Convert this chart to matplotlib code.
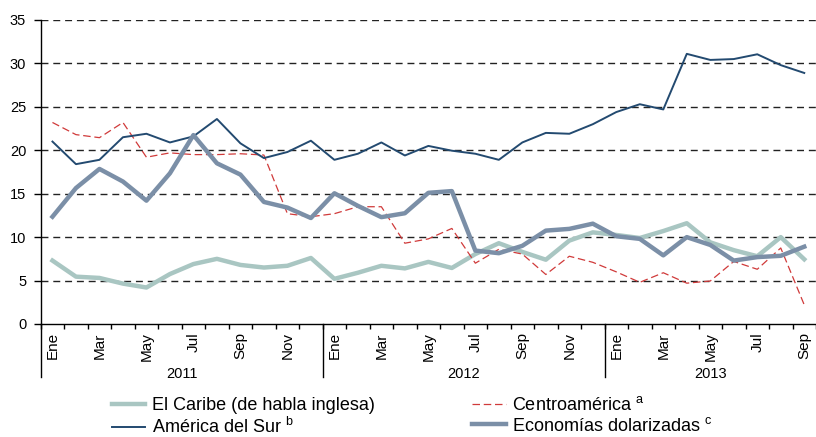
import matplotlib.pyplot as plt
import numpy as np

plt.rcParams["font.family"] = ["Liberation Sans", "DejaVu Sans"]
plt.rcParams["mathtext.fontset"] = "custom"
plt.rcParams["mathtext.rm"] = "Liberation Sans"

# monthly series, Ene 2011 .. Sep 2013
years = ["2011", "2012", "2013"]
months_per_year = [12, 12, 9]
month_names = ["Ene", "", "Mar", "", "May", "", "Jul", "", "Sep", "", "Nov", ""]

caribe = [7.3, 5.45, 5.3, 4.65, 4.2, 5.75, 6.9, 7.5, 6.8, 6.5, 6.7, 7.6,
          5.2, 5.9, 6.7, 6.4, 7.15, 6.45, 8.05, 9.3, 8.3, 7.4, 9.6, 10.55,
          10.25, 9.9, 10.7, 11.6, 9.4, 8.5, 7.8, 10.0, 7.45]
centroamerica = [23.2, 21.8, 21.45, 23.2, 19.2, 19.7, 19.5, 19.5, 19.6, 19.45, 12.7, 12.35,
                 12.7, 13.5, 13.5, 9.3, 9.8, 11.0, 7.0, 8.6, 8.05, 5.7, 7.8, 7.1,
                 6.0, 4.8, 5.9, 4.7, 4.95, 7.2, 6.3, 8.75, 2.2]
america_sur = [21.0, 18.4, 18.9, 21.5, 21.9, 20.9, 21.6, 23.6, 20.8, 19.1, 19.8, 21.1,
               18.9, 19.6, 20.9, 19.4, 20.5, 19.95, 19.6, 18.9, 20.9, 22.0, 21.9, 23.0,
               24.4, 25.3, 24.7, 31.1, 30.4, 30.5, 31.05, 29.8, 28.9]
dolarizadas = [12.35, 15.65, 17.85, 16.4, 14.2, 17.35, 21.75, 18.5, 17.2, 14.05, 13.4, 12.2,
               15.05, 13.6, 12.3, 12.75, 15.1, 15.3, 8.45, 8.15, 9.0, 10.75, 10.95, 11.55,
               10.1, 9.8, 7.9, 10.0, 9.1, 7.3, 7.7, 7.85, 8.9]

n = len(caribe)
x = np.arange(n)
labels = []
for m in months_per_year:
    labels += month_names[:m]

fig = plt.figure(figsize=(8.16, 4.37), dpi=100)
ax = fig.add_axes([0.0499, 0.2586, 0.9501, 0.6957])

ax.set_ylim(0, 35)
ax.set_xlim(-0.5, 32.21)
ax.set_yticks(range(0, 36, 5))
for v in range(5, 36, 5):
    ax.axhline(v, color="#222222", lw=1.0, ls=(0, (5, 3.5)), zorder=1)

l1, = ax.plot(x, caribe, color="#a9c6c2", lw=3.2, label="El Caribe (de habla inglesa)", zorder=2)
l2, = ax.plot(x, centroamerica, color="#d03a3a", lw=0.9, ls=(0, (6, 3)),
              label=r"Centroamérica $^{\rm a}$", zorder=3)
l3, = ax.plot(x, america_sur, color="#234a70", lw=1.4, label=r"América del Sur $^{\rm b}$", zorder=3)
l4, = ax.plot(x, dolarizadas, color="#7b8fa7", lw=3.2, label=r"Economías dolarizadas $^{\rm c}$", zorder=4)

for s in ["top", "right"]:
    ax.spines[s].set_visible(False)
ax.spines["left"].set_linewidth(1.0)
ax.spines["bottom"].set_linewidth(1.0)

ax.tick_params(axis="y", length=5, width=1, pad=5.5, labelsize=10.5, colors="black")
ax.set_xticks(x)
ax.set_xticklabels(labels, rotation=90, fontsize=11, va="top")
ax.tick_params(axis="x", length=0, pad=6)
ax.set_xticks(np.arange(-0.5, n, 1), minor=True)
ax.tick_params(axis="x", which="minor", length=3.5, width=1)

# year separators and labels
start = -0.5
for yr, m in zip(years, months_per_year):
    ax.plot([start, start], [0, -0.175], transform=ax.get_xaxis_transform(),
            color="black", lw=1.0, clip_on=False)
    ax.text(start + m / 2, -0.165, yr, transform=ax.get_xaxis_transform(),
            ha="center", va="center", fontsize=10.5)
    start += m

fig.legend(handles=[l1, l3, l2, l4], ncol=2, loc="center",
           bbox_to_anchor=(0.505, 0.047), frameon=False, fontsize=13,
           handlelength=1.85, handletextpad=0.35, columnspacing=5.4,
           labelspacing=0.15, borderpad=0)

fig.savefig("out.png", dpi=100)
